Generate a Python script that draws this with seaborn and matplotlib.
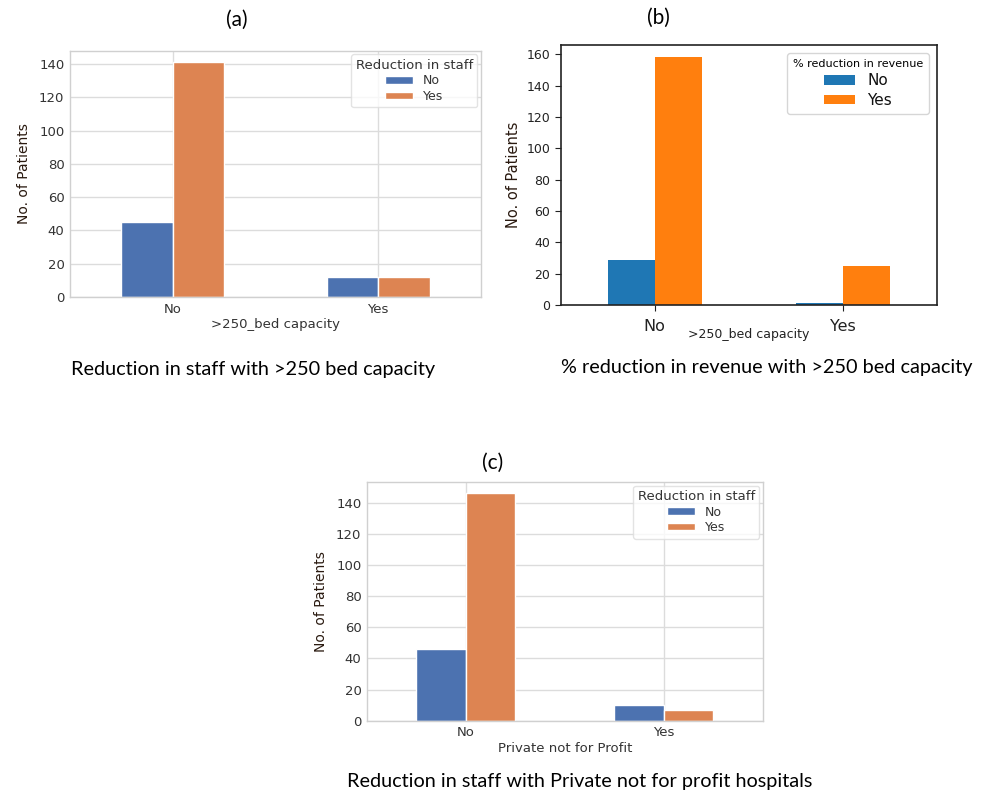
import matplotlib
matplotlib.use("Agg")
import matplotlib.pyplot as plt
import seaborn as sns
import pandas as pd

# Counts per group: category on the x axis, hue = reduction answer
categories = ["No", "Yes"]
hue_levels = ["No", "Yes"]

staff_bed_no = [45, 12]
staff_bed_yes = [141, 12]

revenue_bed_no = [29, 1]
revenue_bed_yes = [158, 25]

staff_private_no = [46, 10]
staff_private_yes = [146, 7]

y_ticks_staff = [0, 20, 40, 60, 80, 100, 120, 140]
y_ticks_revenue = [0, 20, 40, 60, 80, 100, 120, 140, 160]


def long_frame(no_vals, yes_vals, group_name, hue_name):
    rows = []
    for cat, n, y in zip(categories, no_vals, yes_vals):
        rows.append({group_name: cat, hue_name: "No", "count": n})
        rows.append({group_name: cat, hue_name: "Yes", "count": y})
    return pd.DataFrame(rows)


deep = sns.color_palette("deep")
deep_pair = [deep[0], deep[1]]
tab_pair = ["#1f77b4", "#ff7f0e"]

fig = plt.figure(figsize=(9.91, 7.97), dpi=100)
fig.patch.set_facecolor("white")


def seaborn_grid_panel(rect, no_vals, yes_vals, xlabel, legend_title, yticks):
    with sns.axes_style("whitegrid", {"grid.color": "#dcdcdc", "axes.edgecolor": "#d0d0d0"}):
        ax = fig.add_axes(rect)
    df = long_frame(no_vals, yes_vals, xlabel, legend_title)
    sns.barplot(data=df, x=xlabel, y="count", hue=legend_title,
                order=categories, hue_order=hue_levels, palette=deep_pair,
                saturation=1, width=0.5, edgecolor="white", linewidth=1.0,
                ax=ax, errorbar=None)
    ax.set_axisbelow(True)
    ax.grid(True, axis="both", color="#dcdcdc", linewidth=1.0)
    ax.set_xlim(-0.5, 1.5)
    ax.set_ylim(0, max(max(no_vals), max(yes_vals)) * 1.05)
    ax.set_yticks(yticks)
    ax.tick_params(axis="both", labelsize=9.5, colors="#333333", length=0, pad=4)
    ax.set_xlabel(xlabel, fontsize=9.5, color="#333333", labelpad=2)
    ax.set_ylabel("No. of Patients", fontsize=10, color="#2a1a10", labelpad=6)
    for s in ax.spines.values():
        s.set_color("#d0d0d0")
        s.set_linewidth(1.0)
    leg = ax.legend(title=legend_title, loc="upper right", fontsize=9,
                    title_fontsize=9.5, frameon=True, borderaxespad=0.3,
                    handlelength=2.2, handleheight=0.55, labelspacing=0.2,
                    borderpad=0.35)
    leg.get_frame().set_edgecolor("#dddddd")
    leg.get_title().set_color("#333333")
    for t in leg.get_texts():
        t.set_color("#333333")
    return ax


# (a) staff reduction by bed capacity
ax_a = seaborn_grid_panel([0.0706, 0.6274, 0.4147, 0.3090],
                          staff_bed_no, staff_bed_yes, ">250_bed capacity",
                          "Reduction in staff", y_ticks_staff)

# (c) staff reduction for private not-for-profit hospitals
ax_c = seaborn_grid_panel([0.3703, 0.0957, 0.3996, 0.2995],
                          staff_private_no, staff_private_yes, "Private not for Profit",
                          "Reduction in staff", y_ticks_staff)

# (b) revenue reduction by bed capacity, plain matplotlib look
with sns.axes_style("ticks"):
    ax_b = fig.add_axes([0.5658, 0.6173, 0.3797, 0.3262])
df_b = long_frame(revenue_bed_no, revenue_bed_yes, ">250_bed capacity", "% reduction in revenue")
sns.barplot(data=df_b, x=">250_bed capacity", y="count", hue="% reduction in revenue",
            order=categories, hue_order=hue_levels, palette=tab_pair,
            saturation=1, width=0.5, linewidth=0, ax=ax_b, errorbar=None)
ax_b.set_xlim(-0.5, 1.5)
ax_b.set_ylim(0, max(revenue_bed_yes) * 1.05)
ax_b.set_yticks(y_ticks_revenue)
ax_b.grid(False)
for s in ax_b.spines.values():
    s.set_visible(True)
    s.set_color("#222222")
    s.set_linewidth(1.2)
ax_b.tick_params(axis="y", labelsize=9, colors="#222222", length=4, direction="out")
ax_b.tick_params(axis="x", labelsize=11.5, colors="#222222", length=4, direction="out", pad=6)
ax_b.set_xlabel(">250_bed capacity", fontsize=9, color="#222222", labelpad=-4)
ax_b.set_ylabel("No. of Patients", fontsize=10.5, color="#2a1a10", labelpad=4)
leg_b = ax_b.legend(title="% reduction in revenue", loc="upper right", fontsize=11,
                    title_fontsize=8, frameon=True, borderaxespad=0.5,
                    handlelength=2.0, handleheight=0.6, labelspacing=0.3,
                    borderpad=0.4)
leg_b.get_frame().set_edgecolor("#cccccc")
for t in leg_b.get_texts():
    t.set_color("#111111")

# Panel letters and captions
cap_font = ["Lato", "DejaVu Sans"]
fig.text(237 / 991, 1 - 20 / 797, "(a)", ha="center", va="center", fontsize=15, family=cap_font)
fig.text(658 / 991, 1 - 18 / 797, "(b)", ha="center", va="center", fontsize=15, family=cap_font)
fig.text(493 / 991, 1 - 463 / 797, "(c)", ha="center", va="center", fontsize=15, family=cap_font)

fig.text(253 / 991, 1 - 369 / 797, "Reduction in staff with >250 bed capacity",
         ha="center", va="center", fontsize=14.3, family=cap_font)
fig.text(767 / 991, 1 - 368 / 797, "% reduction in revenue with >250 bed capacity",
         ha="center", va="center", fontsize=14.3, family=cap_font)
fig.text(580 / 991, 1 - 782 / 797, "Reduction in staff with Private not for profit hospitals",
         ha="center", va="center", fontsize=14.3, family=cap_font)

fig.savefig("out.png", dpi=100, facecolor="white")
